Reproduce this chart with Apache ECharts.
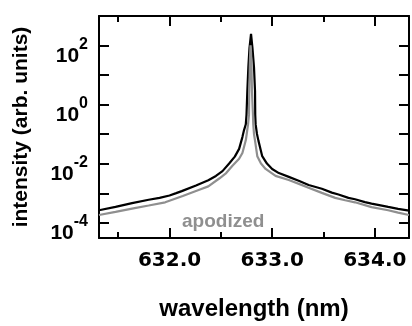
<!DOCTYPE html>
<html>
<head>
<meta charset="utf-8">
<script src="https://cdn.jsdelivr.net/npm/echarts@6/dist/echarts.min.js"></script>
<style>
html,body{margin:0;padding:0;background:#fff;}
#chart{width:412px;height:326px;}
</style>
</head>
<body>
<div id="chart"></div>
<script>
// wavelength (nm) / intensity (arb. units)
var rawWl = [631.313, 631.474, 631.635, 631.797, 631.903, 632.000, 632.065, 632.119, 632.258, 632.378,
	632.452, 632.516, 632.581, 632.636, 632.678, 632.710, 632.726, 632.743, 632.750, 632.758, 632.768,
	632.779, 632.794, 632.808, 632.823, 632.833, 632.835, 632.839, 632.852, 632.866, 632.903,
	632.949, 633.000, 633.065, 633.162, 633.258, 633.355, 633.484, 633.581, 633.646, 633.743,
	633.807, 633.904, 633.968, 634.130, 634.227, 634.333];
var rawI = [2.69e-4, 3.48e-4, 4.69e-4, 6.08e-4, 7.05e-4, 8.49e-4, 1.02e-3, 1.19e-3, 1.85e-3, 2.79e-3,
	3.89e-3, 5.65e-3, 1.02e-2, 1.75e-2, 3.20e-2, 0.080, 0.138, 0.215, 0.452, 2.89, 18.5,
	81.8, 249, 81.8, 18.5, 2.89, 0.452, 0.215, 0.102, 0.0608, 0.0181,
	0.0102, 6.70e-3, 4.86e-3, 3.61e-3, 2.69e-3, 1.92e-3, 1.43e-3, 1.06e-3, 9.14e-4, 7.05e-4,
	6.31e-4, 5.05e-4, 4.52e-4, 3.48e-4, 3.00e-4, 2.59e-4];

var apoWl = [631.313, 631.474, 631.635, 631.797, 631.958, 632.129, 632.290, 632.378, 632.484, 632.552,
	632.613, 632.678, 632.710, 632.743, 632.752, 632.765, 632.774, 632.777, 632.782, 632.786,
	632.789, 632.794, 632.799, 632.803, 632.813, 632.816, 632.823, 632.833, 632.855, 632.891,
	632.936, 633.033, 633.162, 633.323, 633.484, 633.614, 633.711, 633.807, 633.968, 634.130,
	634.227, 634.333];
var apoI = [1.85e-4, 2.37e-4, 3.05e-4, 3.89e-4, 4.98e-4, 8.18e-4, 1.33e-3, 1.72e-3, 3.18e-3, 4.86e-3,
	8.61e-3, 0.0148, 0.0232, 0.0622, 0.102, 0.215, 0.452, 2.89, 18.5, 56.5,
	102, 56.5, 18.5, 2.89, 0.452, 0.215, 0.102, 0.0608, 0.0181, 0.0102,
	6.70e-3, 3.89e-3, 2.83e-3, 1.72e-3, 1.04e-3, 7.05e-4, 5.86e-4, 4.98e-4, 3.43e-4, 2.69e-4,
	2.23e-4, 1.85e-4];

var xMin = 631.313, xMax = 634.333;
var yMin = 3.09e-5, yMax = 1000;
var yLabelExp = [2, 0, -2, -4];

function pairs(a, b){
	var out = [];
	for (var i = 0; i < a.length; i++) out.push([a[i], b[i]]);
	return out;
}

var FONT = 'Liberation Sans';

function xLabel(v){
	if (Math.abs(v - Math.round(v)) < 1e-6) return v.toFixed(1);
	return '';
}
function yLabel(v){
	var e = Math.log(v) / Math.LN10;
	var r = Math.round(e);
	if (Math.abs(e - r) > 1e-6) return '';
	if (yLabelExp.indexOf(r) < 0) return '';
	return '{b|10}{s|' + r + '}';
}

var axLine = {show:true, onZero:false, lineStyle:{color:'#000', width:2}};

var option = {
	animation:false,
	backgroundColor:'#fff',
	grid:{left:99, top:16, width:312, height:233},
	xAxis:[{
		type:'value', min:xMin, max:xMax, splitNumber:3, position:'bottom',
		axisLine:axLine,
		axisTick:{show:true, inside:true, length:10, lineStyle:{color:'#000', width:2}},
		minorTick:{show:true, splitNumber:2, length:6, lineStyle:{color:'#000', width:2}},
		splitLine:{show:false},
		axisLabel:{formatter:xLabel, color:'#000', fontFamily:'DejaVu Sans', fontWeight:'bold', fontSize:20, margin:13},
		name:'wavelength (nm)', nameLocation:'middle', nameGap:59,
		nameTextStyle:{color:'#000', fontFamily:FONT, fontWeight:'bold', fontSize:24}
	},{
		type:'value', min:xMin, max:xMax, splitNumber:3, position:'top',
		axisLine:axLine,
		axisTick:{show:true, inside:true, length:10, lineStyle:{color:'#000', width:2}},
		minorTick:{show:true, splitNumber:2, length:6, lineStyle:{color:'#000', width:2}},
		splitLine:{show:false},
		axisLabel:{show:false}
	}],
	yAxis:[{
		type:'log', logBase:10, min:yMin, max:yMax, splitNumber:5, position:'left',
		axisLine:axLine,
		axisTick:{show:true, inside:true, length:10, lineStyle:{color:'#000', width:2}},
		splitLine:{show:false},
		axisLabel:{formatter:yLabel, margin:11, padding:[12,0,0,0],
			rich:{
				b:{color:'#000', fontFamily:FONT, fontWeight:'bold', fontSize:21, lineHeight:30, verticalAlign:'bottom'},
				s:{color:'#000', fontFamily:FONT, fontWeight:'bold', fontSize:16, lineHeight:30, verticalAlign:'top'}
			}
		},
		name:'intensity (arb. units)', nameLocation:'middle', nameGap:67,
		nameTextStyle:{color:'#000', fontFamily:FONT, fontWeight:'bold', fontSize:21}
	},{
		type:'log', logBase:10, min:yMin, max:yMax, splitNumber:5, position:'right',
		axisLine:axLine,
		axisTick:{show:true, inside:true, length:10, lineStyle:{color:'#000', width:2}},
		splitLine:{show:false},
		axisLabel:{show:false}
	}],
	graphic:[{
		type:'text', left:182, top:212,
		style:{text:'apodized', fill:'#8f8f8f', font:'bold 19px "Liberation Sans"'}
	}],
	series:[{
		name:'raw', type:'line', xAxisIndex:0, yAxisIndex:0,
		data:pairs(rawWl, rawI), showSymbol:false, symbol:'none',
		lineStyle:{color:'#000', width:2.2}
	},{
		name:'apodized', type:'line', xAxisIndex:0, yAxisIndex:0,
		data:pairs(apoWl, apoI), showSymbol:false, symbol:'none',
		lineStyle:{color:'#8f8f8f', width:2.2}
	}]
};

var myChart = echarts.init(document.getElementById('chart'));
myChart.setOption(option);
</script>
</body>
</html>
